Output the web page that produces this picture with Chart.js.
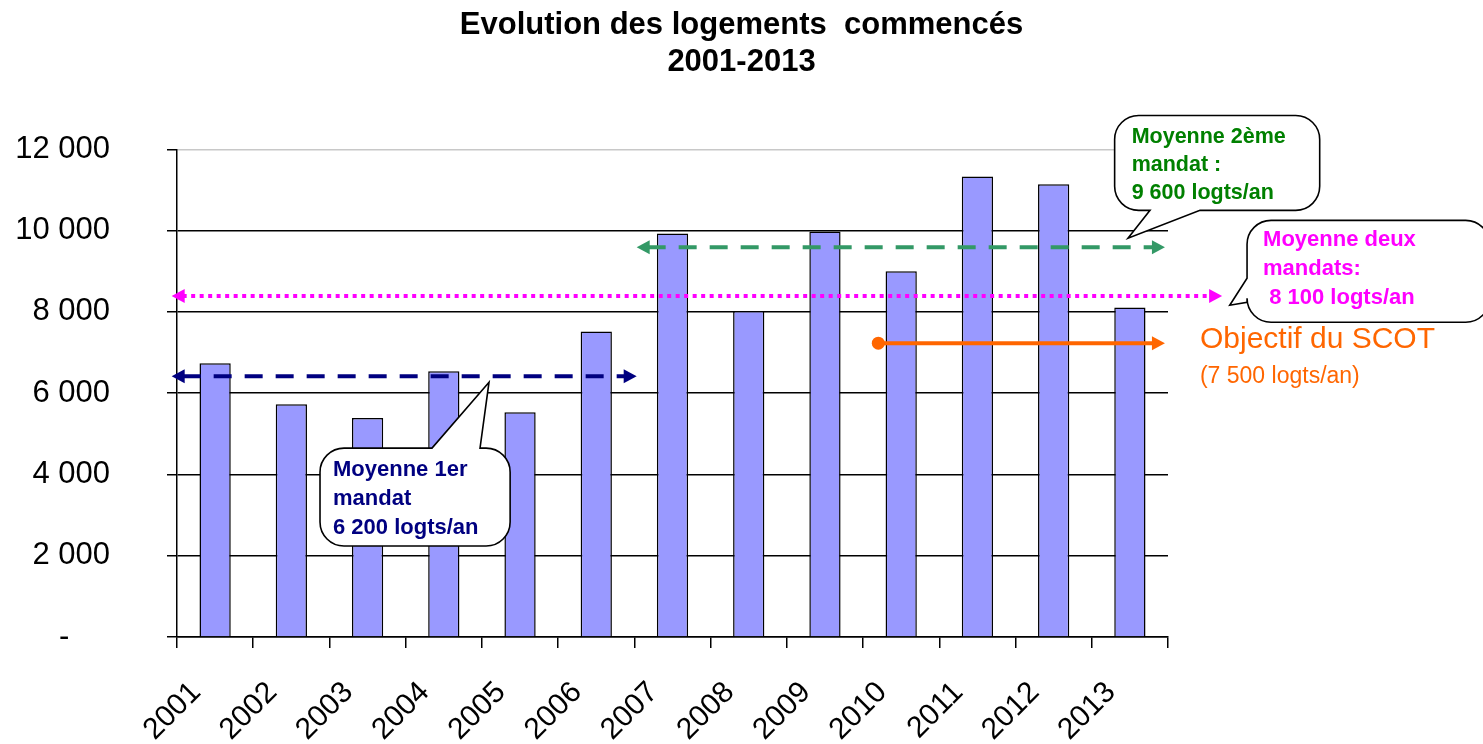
<!DOCTYPE html>
<html lang="fr">
<head>
<meta charset="utf-8">
<title>Evolution des logements commencés 2001-2013</title>
<script src="https://cdn.jsdelivr.net/npm/chart.js@4.4.1/dist/chart.umd.min.js"></script>
<style>
  html, body { margin: 0; padding: 0; background: #fff; }
  #wrap { width: 1483px; height: 744px; }
</style>
</head>
<body>
<div id="wrap"><canvas id="chart" width="1483" height="744"></canvas></div>
<script>
// --- Données ---
const annees = ['2001', '2002', '2003', '2004', '2005', '2006', '2007', '2008', '2009', '2010', '2011', '2012', '2013'];
const logementsCommences = [6740, 5730, 5390, 6540, 5530, 7520, 9930, 8020, 9980, 9000, 11330, 11140, 8110];
const yMax = 12000;
const yPas = 2000;

// Lignes de moyenne : [valeur, début, fin] (début/fin en index de catégorie)
const moyenne1erMandat = [6420, -0.57, 5.53];
const moyenne2emeMandat = [9590, 5.53, 12.46];
const moyenneDeuxMandats = [8390, -0.57, 13.21];
const objectifScot = [7230, 8.70, 12.46];

// Textes des bulles
const texteMandat1 = ['Moyenne 1er', 'mandat', '6 200 logts/an'];
const texteMandat2 = ['Moyenne 2ème', 'mandat :', '9 600 logts/an'];
const texteDeuxMandats = ['Moyenne deux', 'mandats:', ' 8 100 logts/an'];
const texteScot = ['Objectif du SCOT', '(7 500 logts/an)'];

const FONT = "'Liberation Sans', Arial, Helvetica, sans-serif";

function formatMilliers(v) {
  if (v === 0) return '-    \u2009';
  return String(v).replace(/\B(?=(\d{3})+(?!\d))/g, ' ');
}

// Ligne horizontale avec flèches / point
function ligneFleche(ctx, x1, x2, yy, couleur, dash, debut, fin) {
  const head = 13, half = 7;
  ctx.save();
  ctx.strokeStyle = couleur;
  ctx.fillStyle = couleur;
  ctx.lineWidth = 4;
  ctx.lineCap = 'butt';
  ctx.setLineDash(dash);
  ctx.beginPath();
  ctx.moveTo(debut === 'fleche' ? x1 + head - 2 : x1, yy);
  ctx.lineTo(fin === 'fleche' ? x2 - head + 2 : x2, yy);
  ctx.stroke();
  ctx.setLineDash([]);
  if (debut === 'fleche') {
    ctx.beginPath();
    ctx.moveTo(x1, yy);
    ctx.lineTo(x1 + head, yy - half);
    ctx.lineTo(x1 + head, yy + half);
    ctx.closePath();
    ctx.fill();
  } else if (debut === 'point') {
    ctx.beginPath();
    ctx.arc(x1, yy, 6.5, 0, Math.PI * 2);
    ctx.fill();
  }
  if (fin === 'fleche') {
    ctx.beginPath();
    ctx.moveTo(x2, yy);
    ctx.lineTo(x2 - head, yy - half);
    ctx.lineTo(x2 - head, yy + half);
    ctx.closePath();
    ctx.fill();
  }
  ctx.restore();
}

// Bulle arrondie avec pointe
function bulle(ctx, l, t, r, b, rad, queue) {
  ctx.beginPath();
  ctx.moveTo(l + rad, t);
  if (queue.cote === 'haut') {
    ctx.lineTo(queue.a, t);
    ctx.lineTo(queue.px, queue.py);
    ctx.lineTo(queue.b, t);
  }
  ctx.arcTo(r, t, r, b, rad);
  ctx.arcTo(r, b, l, b, rad);
  if (queue.cote === 'bas') {
    ctx.lineTo(queue.b, b);
    ctx.lineTo(queue.px, queue.py);
    ctx.lineTo(queue.a, b);
  }
  ctx.arcTo(l, b, l, t, rad);
  if (queue.cote === 'gauche') {
    ctx.lineTo(l, queue.b);
    ctx.lineTo(queue.px, queue.py);
    ctx.lineTo(l, queue.a);
  }
  ctx.arcTo(l, t, r, t, rad);
  ctx.closePath();
  ctx.fillStyle = '#fff';
  ctx.fill();
  ctx.strokeStyle = '#000';
  ctx.lineWidth = 1.6;
  ctx.stroke();
}

function texteLignes(ctx, lignes, x, y0, pas, couleur, font) {
  ctx.fillStyle = couleur;
  ctx.font = font;
  ctx.textAlign = 'left';
  ctx.textBaseline = 'alphabetic';
  lignes.forEach((s, i) => ctx.fillText(s, x, y0 + i * pas));
}

const annotations = {
  id: 'annotations',
  afterDraw(chart) {
    const { ctx, scales: { x, y } } = chart;
    const px = i => x.getPixelForValue(i);
    const py = v => y.getPixelForValue(v);
    ctx.save();

    // Lignes de moyenne
    ligneFleche(ctx, px(moyenne1erMandat[1]), px(moyenne1erMandat[2]), py(moyenne1erMandat[0]), '#000080', [18, 13], 'fleche', 'fleche');
    ligneFleche(ctx, px(moyenne2emeMandat[1]), px(moyenne2emeMandat[2]), py(moyenne2emeMandat[0]), '#339966', [18, 13], 'fleche', 'fleche');
    ligneFleche(ctx, px(moyenneDeuxMandats[1]), px(moyenneDeuxMandats[2]), py(moyenneDeuxMandats[0]), '#FF00FF', [4, 4.5], 'fleche', 'fleche');
    ligneFleche(ctx, px(objectifScot[1]), px(objectifScot[2]), py(objectifScot[0]), '#FF6600', [], 'point', 'fleche');

    // Bulle 1er mandat
    let l = px(1.376), t = py(4648), r = px(3.87), b = py(2238);
    bulle(ctx, l, t, r, b, 24, { cote: 'haut', a: px(2.845), b: px(3.475), px: px(3.593), py: py(6270) });
    texteLignes(ctx, texteMandat1, l + 13, t + 28, 29, '#000080', 'bold 22px ' + FONT);

    // Bulle 2ème mandat
    l = px(11.80); t = py(12836); r = px(14.49); b = py(10500);
    bulle(ctx, l, t, r, b, 24, { cote: 'bas', a: px(12.264), b: px(12.92), px: px(11.975), py: py(9812) });
    texteLignes(ctx, texteMandat2, l + 17, t + 28, 28, '#008000', 'bold 21.5px ' + FONT);

    // Bulle deux mandats
    l = px(13.537); t = py(10254); r = px(16.72); b = py(7746);
    bulle(ctx, l, t, r, b, 24, { cote: 'gauche', a: py(8828), b: py(8238), px: px(13.31), py: py(8164) });
    texteLignes(ctx, texteDeuxMandats, l + 16, t + 26, 29, '#FF00FF', 'bold 22px ' + FONT);

    // Objectif du SCOT
    const xs = px(objectifScot[2]) + 35, ys = py(objectifScot[0]);
    texteLignes(ctx, [texteScot[0]], xs, ys + 5, 0, '#FF6600', '30px ' + FONT);
    texteLignes(ctx, [texteScot[1]], xs, ys + 40, 0, '#FF6600', '23px ' + FONT);

    ctx.restore();
  }
};

const ctx = document.getElementById('chart').getContext('2d');
new Chart(ctx, {
  type: 'bar',
  data: {
    labels: annees,
    datasets: [{
      label: 'Logements commencés',
      data: logementsCommences,
      backgroundColor: '#9999FF',
      borderColor: '#000',
      borderWidth: 1.5,
      categoryPercentage: 1,
      barPercentage: 0.41
    }]
  },
  options: {
    responsive: false,
    animation: false,
    layout: { padding: 0 },
    plugins: {
      legend: { display: false },
      tooltip: { enabled: false },
      title: {
        display: true,
        text: ['Evolution des logements  commencés', '2001-2013'],
        color: '#000',
        font: { family: FONT, size: 31, weight: 'bold', lineHeight: 1.2 },
        padding: { top: 7, bottom: 68 }
      }
    },
    scales: {
      x: {
        afterFit: s => { s.height = 107; },
        grid: {
          offset: true,
          drawOnChartArea: false,
          drawTicks: true,
          tickLength: 11,
          color: '#000',
          lineWidth: 1.5
        },
        border: { display: true, color: '#000', width: 1.5 },
        ticks: {
          color: '#000',
          font: { family: FONT, size: 30 },
          maxRotation: 45,
          minRotation: 45,
          autoSkip: false,
          labelOffset: -19,
          padding: 27
        }
      },
      y: {
        min: 0,
        max: yMax,
        afterFit: s => { s.width = 177; },
        grid: {
          color: c => (c.tick && c.tick.value === yMax ? '#c8c8c8' : '#000'),
          tickColor: '#000',
          lineWidth: 1.5,
          tickLength: 10
        },
        border: { display: true, color: '#000', width: 1.5 },
        ticks: {
          stepSize: yPas,
          color: '#000',
          font: { family: FONT, size: 31 },
          padding: 57,
          callback: v => formatMilliers(v)
        }
      },
      // axe vide à droite : réserve la place des bulles
      marge: {
        type: 'linear',
        position: 'right',
        afterFit: s => { s.width = 315; },
        grid: { display: false },
        border: { display: false },
        ticks: { display: false }
      }
    }
  },
  plugins: [annotations]
});
</script>
</body>
</html>
